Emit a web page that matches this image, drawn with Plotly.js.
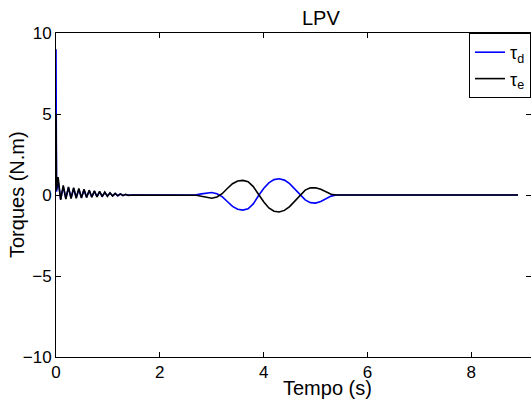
<!DOCTYPE html>
<html>
<head>
<meta charset="utf-8">
<script src="https://cdn.plot.ly/plotly-3.0.1.min.js"></script>
<style>html,body{margin:0;padding:0;background:#fff;}#chart{width:531px;height:401px;}</style>
</head>
<body>
<div id="chart"></div>
<script>
// Time samples (s)
const tStart = [0, 0.01, 0.04, 0.09, 0.14, 0.19, 0.24, 0.29, 0.34, 0.39, 0.44, 0.49, 0.54, 0.59, 0.64, 0.69, 0.74, 0.79, 0.84, 0.89, 0.94, 0.99, 1.04, 1.09, 1.14, 1.19, 1.24, 1.29, 1.34, 1.39, 1.5];
const tMid = [2.6, 2.7, 2.8, 2.9, 3.0, 3.1, 3.2, 3.3, 3.4, 3.5, 3.6, 3.7, 3.8, 3.9, 4.0, 4.1, 4.2, 4.3, 4.4, 4.5, 4.6, 4.7, 4.8, 4.9, 5.0, 5.1, 5.2, 5.3, 5.4, 8.9];

// tau_d (blue)
const tauDStart = [9.0, 0.2, 0.9, -0.25, 0.5, -0.2, 0.45, -0.18, 0.4, -0.16, 0.35, -0.15, 0.3, -0.13, 0.26, -0.12, 0.22, -0.1, 0.19, -0.08, 0.15, -0.06, 0.12, -0.05, 0.09, -0.04, 0.06, -0.03, 0.03, -0.01, 0];
const tauDMid = [0, 0.02, 0.07, 0.13, 0.15, 0.08, -0.1, -0.4, -0.7, -0.88, -0.93, -0.85, -0.55, -0.05, 0.4, 0.75, 0.95, 1.0, 0.92, 0.7, 0.35, 0.0, -0.3, -0.47, -0.5, -0.4, -0.22, -0.07, 0.0, 0];

// tau_e (black)
const tauEStart = [5.0, 0.3, 1.1, -0.3, 0.6, -0.25, 0.5, -0.22, 0.45, -0.2, 0.4, -0.18, 0.35, -0.16, 0.3, -0.14, 0.26, -0.12, 0.22, -0.1, 0.18, -0.08, 0.14, -0.06, 0.1, -0.05, 0.07, -0.04, 0.04, -0.02, 0];
const tauEMid = [0, -0.02, -0.08, -0.16, -0.2, -0.12, 0.08, 0.4, 0.7, 0.86, 0.9, 0.82, 0.52, 0.05, -0.42, -0.8, -1.0, -1.05, -0.95, -0.72, -0.36, 0.0, 0.3, 0.44, 0.45, 0.35, 0.18, 0.05, 0.0, 0];

const xTicks = [0, 2, 4, 6, 8];
const yTicks = [-10, -5, 0, 5, 10];

const tAll = tStart.concat(tMid);
const traces = [
  {x: tAll, y: tauDStart.concat(tauDMid), type: 'scatter', mode: 'lines', name: 'τ<sub>d</sub>',
   line: {color: '#0000ff', width: 1.6}},
  {x: tAll, y: tauEStart.concat(tauEMid), type: 'scatter', mode: 'lines', name: 'τ<sub>e</sub>',
   line: {color: '#000000', width: 1.6}}
];

const fontFam = "'Liberation Sans', Arial, Helvetica, sans-serif";
const layout = {
  width: 531, height: 401,
  margin: {l: 56, r: 0, t: 33, b: 44},
  paper_bgcolor: '#fff', plot_bgcolor: '#fff',
  font: {family: fontFam, size: 17, color: '#000'},
  showlegend: true,
  legend: {x: 1, xanchor: 'right', y: 1, yanchor: 'top', bgcolor: '#fff',
           bordercolor: '#000', borderwidth: 1, font: {family: fontFam, size: 18}, itemwidth: 30,
           tracegroupgap: 0},
  xaxis: {range: [0, 9.15], tickvals: xTicks, ticktext: xTicks.map(String), ticks: 'inside', ticklen: 5,
          tickcolor: '#000', showline: true, linecolor: '#000', linewidth: 1, mirror: 'ticks',
          showgrid: false, zeroline: false, tickfont: {family: fontFam, size: 17}},
  yaxis: {range: [-10, 10], tickvals: yTicks, ticks: 'inside', ticklen: 5,
          tickcolor: '#000', showline: true, linecolor: '#000', linewidth: 1, mirror: 'ticks',
          showgrid: false, zeroline: false, tickfont: {family: fontFam, size: 17}},
  annotations: [
    {text: 'LPV', xref: 'paper', yref: 'paper', x: (321 - 56) / 475, y: 1, yanchor: 'bottom', yshift: 2,
     showarrow: false, font: {family: fontFam, size: 20}},
    {text: 'Tempo (s)', xref: 'paper', yref: 'paper', x: (327 - 56) / 475, y: 0, yanchor: 'top', yshift: -18,
     showarrow: false, font: {family: fontFam, size: 20}},
    {text: 'Torques (N.m)', xref: 'paper', yref: 'paper', x: 0, xanchor: 'right', xshift: -26, y: 0.5,
     textangle: -90, showarrow: false, font: {family: fontFam, size: 20}}
  ]
};
Plotly.newPlot('chart', traces, layout, {displayModeBar: false, staticPlot: true});
</script>
</body>
</html>
